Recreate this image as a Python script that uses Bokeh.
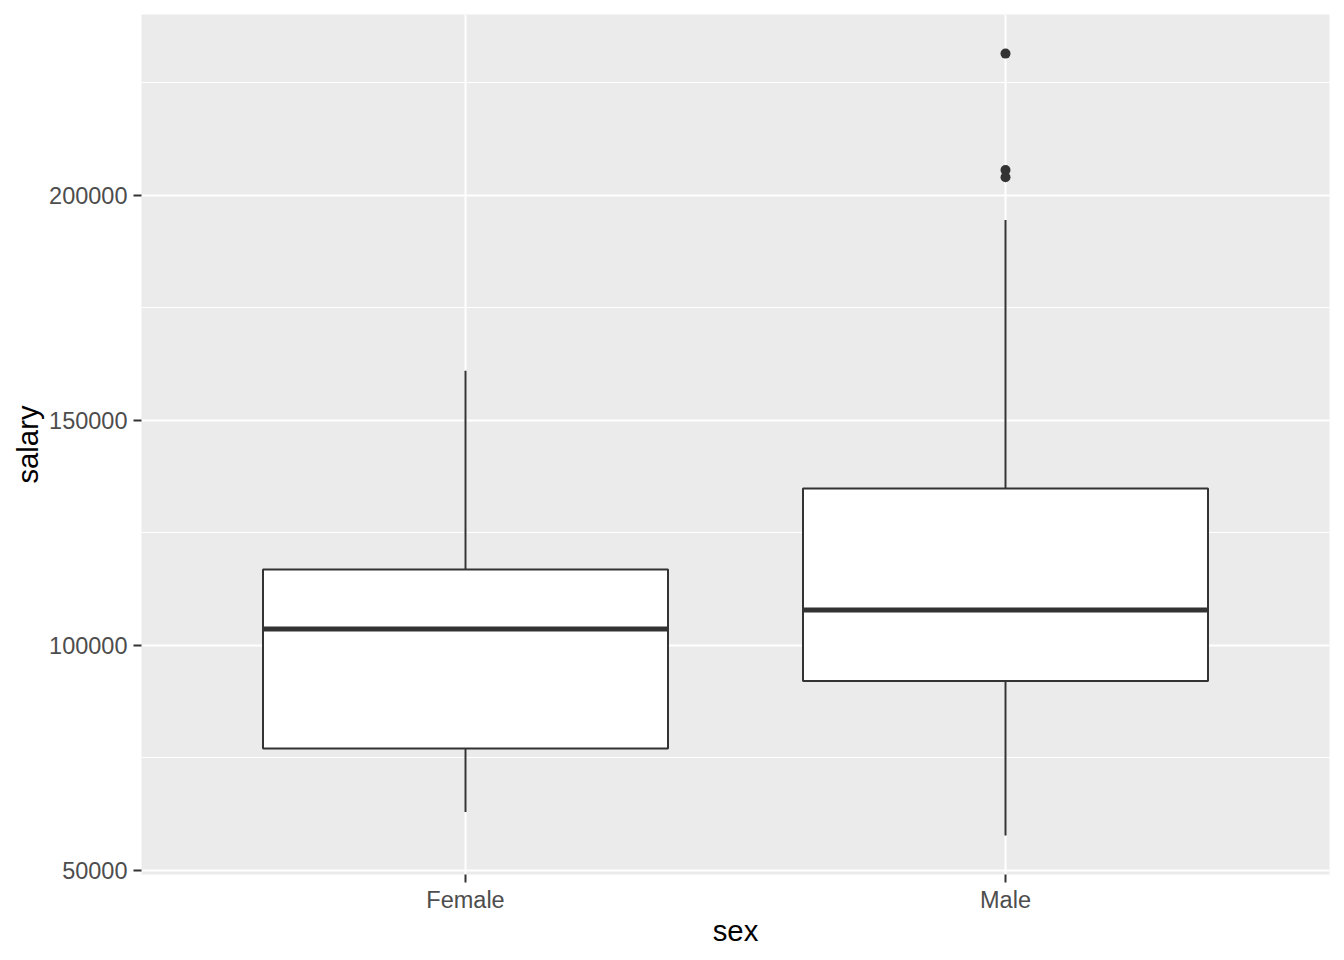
from bokeh.plotting import figure
from bokeh.models import FactorRange, Range1d, FixedTicker, NumeralTickFormatter
from bokeh.embed import file_html
from bokeh.resources import INLINE

# ---- data ----
sex = ["Female", "Male"]
lower_whisker = [62900, 57700]
q1 = [77000, 92000]
median = [103600, 107800]
q3 = [116800, 134800]
upper_whisker = [161000, 194500]
outlier_sex = ["Male", "Male", "Male"]
outlier_salary = [231500, 205600, 204000]
y_major_ticks = [50000, 100000, 150000, 200000]
y_minor_ticks = [75000, 125000, 175000, 225000]

# ggplot-like 5% expansion of the data range
data_min = min(min(lower_whisker), min(outlier_salary))
data_max = max(max(upper_whisker), max(outlier_salary))
pad = 0.05 * (data_max - data_min)

FONT = "Liberation Sans"
DARK = "#333333"

p = figure(
    x_range=FactorRange(*sex, range_padding=0.1),
    y_range=Range1d(data_min - pad, data_max + pad),
    frame_width=1188, frame_height=860,
    min_border_left=141, min_border_right=1, min_border_top=14, min_border_bottom=78,
    output_backend="svg", toolbar_location=None,
    background_fill_color="#EBEBEB", border_fill_color="white",
    outline_line_color=None,
)

# grid
p.xgrid.grid_line_color = "white"
p.xgrid.grid_line_width = 2
p.ygrid.grid_line_color = "white"
p.ygrid.grid_line_width = 2
p.ygrid.minor_grid_line_color = "white"
p.ygrid.minor_grid_line_width = 1

p.yaxis.ticker = FixedTicker(ticks=y_major_ticks, minor_ticks=y_minor_ticks)
p.yaxis.formatter = NumeralTickFormatter(format="0")

for ax in (p.xaxis[0], p.yaxis[0]):
    ax.axis_line_color = None
    ax.major_tick_line_color = DARK
    ax.major_tick_line_width = 2
    ax.major_tick_out = 8
    ax.major_tick_in = 0
    ax.minor_tick_line_color = None
    ax.major_label_text_font = FONT
    ax.major_label_text_font_size = "23.5px"
    ax.major_label_text_color = "#4D4D4D"
    ax.axis_label_text_font = FONT
    ax.axis_label_text_font_size = "29.3px"
    ax.axis_label_text_font_style = "normal"
    ax.axis_label_text_color = "black"

p.xaxis.axis_label = "sex"
p.yaxis.axis_label = "salary"
p.xaxis.major_label_standoff = 4
p.yaxis.major_label_standoff = 6
p.xaxis.axis_label_standoff = -2
p.yaxis.axis_label_standoff = 2

# whiskers
p.segment(x0=sex, x1=sex, y0=q3, y1=upper_whisker, line_color=DARK, line_width=2)
p.segment(x0=sex, x1=sex, y0=q1, y1=lower_whisker, line_color=DARK, line_width=2)
# boxes
p.vbar(x=sex, width=0.75, bottom=q1, top=q3, fill_color="white",
       line_color=DARK, line_width=2)
# medians
p.rect(x=sex, y=median, width=0.75, height=5, height_units="screen",
       fill_color=DARK, line_color=None)
# outliers
p.scatter(x=outlier_sex, y=outlier_salary, size=10, fill_color=DARK, line_color=None)

open("out.html", "w").write(file_html(p, INLINE))
